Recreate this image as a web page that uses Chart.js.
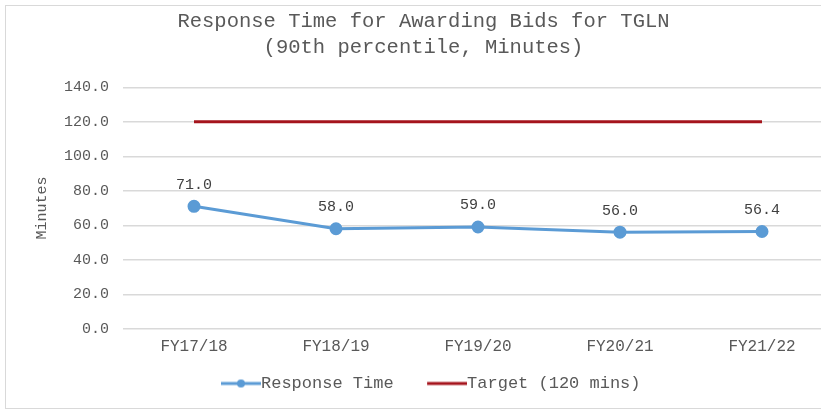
<!DOCTYPE html>
<html>
<head>
<meta charset="utf-8">
<script src="https://cdn.jsdelivr.net/npm/chart.js@4/dist/chart.umd.min.js"></script>
<style>
  html, body { margin: 0; padding: 0; background: #fff; overflow: hidden; }
  #box { position: absolute; left: 5px; top: 5px; width: 840px; height: 402px; border: 1px solid #d9d9d9; }
  #wrap { position: absolute; left: 0; top: 0; width: 835px; height: 402px; }
</style>
</head>
<body>
<div id="box"><div id="wrap"><canvas id="chart"></canvas></div></div>
<script>
// data
const categories = ['FY17/18', 'FY18/19', 'FY19/20', 'FY20/21', 'FY21/22'];
const responseTime = [71.0, 58.0, 59.0, 56.0, 56.4];
const target = [120, 120, 120, 120, 120];
const yTicks = [0, 20, 40, 60, 80, 100, 120, 140];

const mono = "'Liberation Mono', 'DejaVu Sans Mono', monospace";
const grey = '#595959';
const blue = '#5b9bd5';
const red = '#a5141c';

// legend symbols: a line (with a dot for the blue one) that runs up to the text
function legendIcon(color, dot) {
  const c = document.createElement('canvas');
  c.width = 63; c.height = 12;
  const g = c.getContext('2d');
  g.strokeStyle = color; g.lineWidth = 3;
  g.beginPath(); g.moveTo(23, 6); g.lineTo(63, 6); g.stroke();
  if (dot) {
    g.fillStyle = color;
    g.beginPath(); g.arc(43, 6, 4, 0, Math.PI * 2); g.fill();
  }
  return c;
}

// value labels above the blue points
const valueLabels = {
  id: 'valueLabels',
  afterDatasetsDraw(chart) {
    const ctx = chart.ctx;
    const meta = chart.getDatasetMeta(0);
    ctx.save();
    ctx.font = '15px ' + mono;
    ctx.fillStyle = '#404040';
    ctx.textAlign = 'center';
    ctx.textBaseline = 'bottom';
    meta.data.forEach((pt, i) => {
      ctx.fillText(responseTime[i].toFixed(1), pt.x, pt.y - 14);
    });
    ctx.restore();
  }
};

new Chart(document.getElementById('chart'), {
  type: 'line',
  data: {
    labels: categories,
    datasets: [{
      label: 'Response Time',
      data: responseTime,
      borderColor: blue,
      backgroundColor: blue,
      borderWidth: 3,
      pointRadius: 5,
      pointHoverRadius: 5,
      tension: 0
    }, {
      label: 'Target (120 mins)',
      data: target,
      borderColor: red,
      backgroundColor: red,
      borderWidth: 3,
      pointRadius: 0,
      tension: 0
    }]
  },
  options: {
    responsive: true,
    maintainAspectRatio: false,
    animation: false,
    layout: { padding: { top: 2, right: 0, bottom: 6, left: 0 } },
    plugins: {
      title: {
        display: true,
        text: ['Response Time for Awarding Bids for TGLN', '(90th percentile, Minutes)'],
        color: grey,
        font: { family: mono, size: 20.5, weight: 'normal', lineHeight: 1.3 },
        padding: { top: 0, bottom: 26 }
      },
      legend: {
        position: 'bottom',
        labels: {
          color: grey,
          font: { family: mono, size: 17 },
          usePointStyle: true,
          pointStyleWidth: 46,
          padding: 19,
          generateLabels(chart) {
            const items = Chart.defaults.plugins.legend.labels.generateLabels(chart);
            items[0].pointStyle = legendIcon(blue, true);
            items[1].pointStyle = legendIcon(red, false);
            return items;
          }
        }
      },
      tooltip: { enabled: false }
    },
    scales: {
      x: {
        offset: true,
        grid: { display: false },
        border: { display: false },
        ticks: { color: grey, font: { family: mono, size: 16 }, padding: 0 }
      },
      y: {
        min: 0,
        max: 140,
        afterBuildTicks(axis) { axis.ticks = yTicks.map(v => ({ value: v })); },
        afterFit(axis) { axis.width = 117; },
        grid: { color: '#d9d9d9', lineWidth: 1.5, drawTicks: false },
        border: { display: false },
        title: {
          display: true,
          text: 'Minutes',
          color: grey,
          font: { family: mono, size: 15 },
          padding: { top: 27, bottom: 0 }
        },
        ticks: {
          color: grey,
          font: { family: mono, size: 15 },
          padding: 14,
          callback: v => Number(v).toFixed(1)
        }
      }
    }
  },
  plugins: [valueLabels]
});
</script>
</body>
</html>
